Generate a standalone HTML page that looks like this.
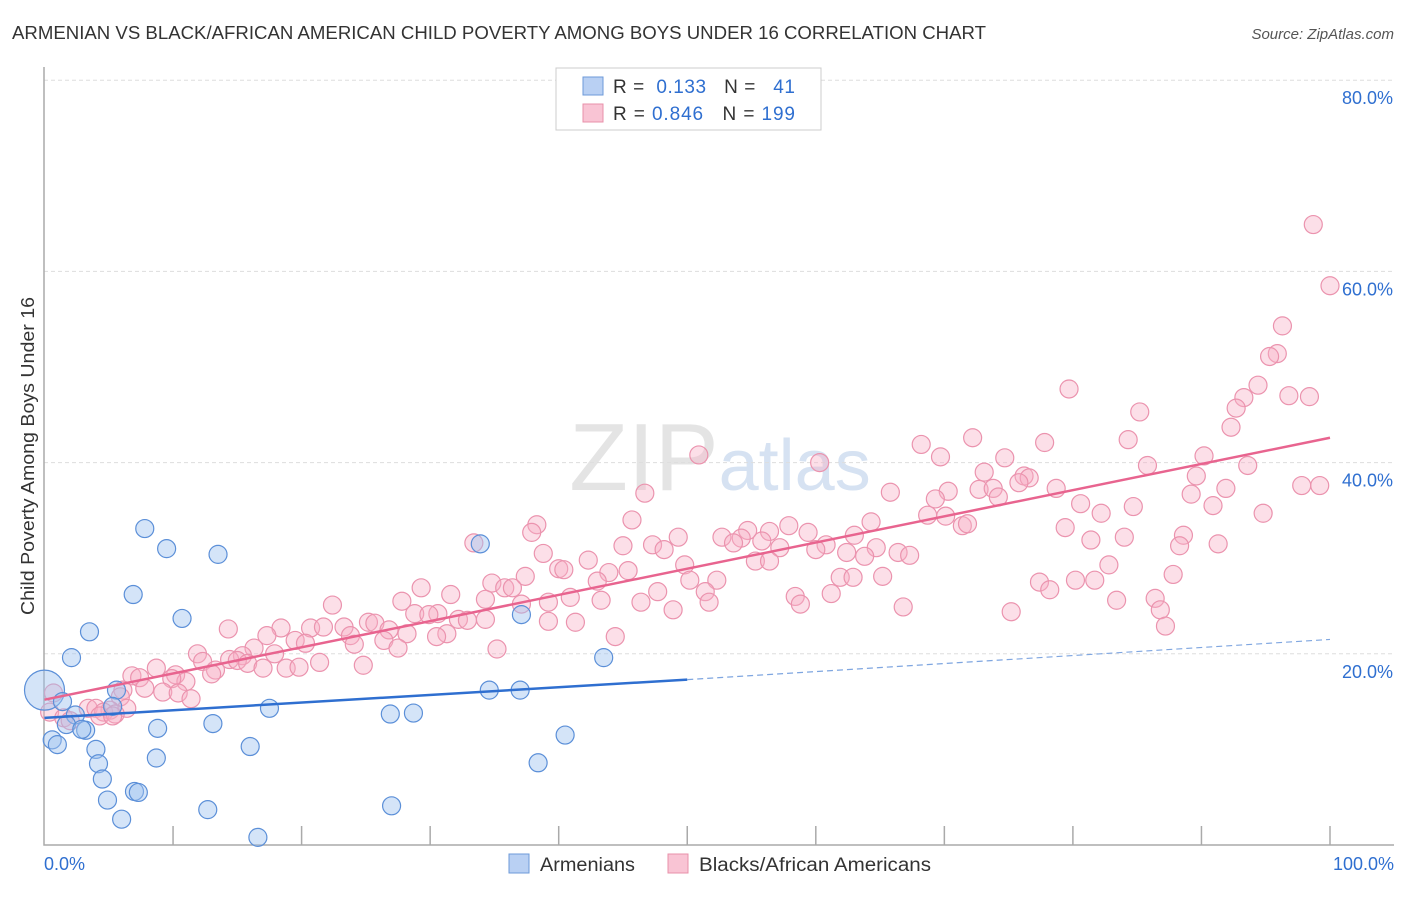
<!DOCTYPE html>
<html><head><meta charset="utf-8"><style>
body{margin:0;background:#fff;font-family:"Liberation Sans",sans-serif;}
svg text{font-family:"Liberation Sans",sans-serif;}
</style></head><body>
<svg id="chart" width="1406" height="892" viewBox="0 0 1406 892" xmlns="http://www.w3.org/2000/svg">
<text x="12" y="39" font-size="18" fill="#333" textLength="974" lengthAdjust="spacingAndGlyphs">ARMENIAN VS BLACK/AFRICAN AMERICAN CHILD POVERTY AMONG BOYS UNDER 16 CORRELATION CHART</text>
<text x="1394" y="39" font-size="15" fill="#555" font-style="italic" text-anchor="end">Source: ZipAtlas.com</text>
<text x="720" y="490" font-size="96" fill="#e4e4e4" text-anchor="middle" font-family="Liberation Serif">ZIP<tspan fill="#d6e2f2" font-family="Liberation Sans" font-size="72">atlas</tspan></text>
<g id="grid"></g>
<g id="axes"></g>
<g id="pts"></g>
<g id="lines"></g>
<text transform="translate(34,456) rotate(-90)" font-size="18" fill="#333" text-anchor="middle" textLength="318" lengthAdjust="spacingAndGlyphs">Child Poverty Among Boys Under 16</text>
<g>
<rect x="556" y="68" width="265" height="62" fill="#fff" stroke="#ccc"/>
<rect x="583" y="77" width="20" height="18" fill="#b9d0f3" stroke="#6d9ad8"/>
<rect x="583" y="104" width="20" height="18" fill="#f9c4d4" stroke="#e890aa"/>
<text x="613" y="93" font-size="19" fill="#333" textLength="182" lengthAdjust="spacing">R = <tspan fill="#2f6fd0">&#160;0.133</tspan>&#160;&#160;&#160;N = <tspan fill="#2f6fd0">&#160;&#160;41</tspan></text>
<text x="613" y="120" font-size="19" fill="#333" textLength="182" lengthAdjust="spacing">R = <tspan fill="#2f6fd0">0.846</tspan>&#160;&#160;&#160;N = <tspan fill="#2f6fd0">199</tspan></text>
</g>
<g>
<rect x="509" y="854" width="20" height="19" fill="#b9d0f3" stroke="#6d9ad8"/>
<text x="540" y="871" font-size="19" fill="#333" textLength="95" lengthAdjust="spacingAndGlyphs">Armenians</text>
<rect x="668" y="854" width="20" height="19" fill="#f9c4d4" stroke="#e890aa"/>
<text x="699" y="871" font-size="19" fill="#333" textLength="232" lengthAdjust="spacingAndGlyphs">Blacks/African Americans</text>
</g>
</svg>
<script>
const yTicks=[20,40,60,80];
const yTickLabels=["20.0%","40.0%","60.0%","80.0%"];
const xLabels=["0.0%","100.0%"];
const blueX=[0,7.8,9.5,13.5,6.9,10.7,3.5,2.1,43.5,37.1,33.9,1.4,5.6,34.6,37.0,17.5,5.3,2.4,3.2,1.7,8.8,13.1,0.6,1.0,4.0,26.9,28.7,40.5,16.0,8.7,4.2,4.5,38.4,7.0,7.3,4.9,12.7,6.0,27.0,16.6,2.9];
const blueY=[16.2,33.1,31.0,30.4,26.2,23.7,22.3,19.6,19.6,24.1,31.5,15.0,16.2,16.2,16.2,14.3,14.5,13.6,12.0,12.6,12.2,12.7,11.0,10.5,10.0,13.7,13.8,11.5,10.3,9.1,8.5,6.9,8.6,5.6,5.5,4.7,3.7,2.7,4.1,0.8,12.1];
const pinkX=[98.7,100,96.3,95.9,95.3,94.4,96.8,98.4,93.3,92.7,92.3,79.7,85.2,84.3,72.2,68.2,77.8,90.2,85.8,93.6,69.7,50.9,60.3,74.7,73.1,76.2,76.6,75.8,89.6,99.2,97.8,65.8,46.7,72.7,73.8,70.3,78.7,91.9,89.2,69.3,74.2,80.6,84.7,90.9,82.2,94.8,68.7,70.1,45.7,38.3,64.3,71.4,71.8,79.4,57.9,59.4,37.9,54.7,56.4,52.7,54.2,63.0,88.6,49.3,53.6,55.8,60.8,81.4,84.0,33.4,45.0,47.3,48.2,57.2,60.0,62.4,64.7,66.4,67.3,88.3,91.3,38.8,42.3,55.3,56.4,63.8,49.8,82.8,40.0,40.4,45.4,43.9,37.4,43.0,34.8,61.9,62.9,65.2,87.8,52.3,50.2,77.4,80.2,81.7,29.3,35.8,36.4,47.7,51.4,78.2,31.6,34.3,27.8,39.2,40.9,43.3,46.4,51.7,58.4,61.2,83.4,86.4,22.4,37.1,48.9,58.8,66.8,75.2,86.8,28.8,30.6,29.9,32.2,34.3,32.9,25.2,25.7,26.8,14.3,18.4,20.7,21.7,23.3,39.2,41.3,87.2,28.2,31.3,30.5,23.8,17.3,19.5,26.4,44.4,24.1,20.3,16.3,27.5,35.2,11.9,15.4,17.9,12.3,14.4,15.0,15.8,21.4,17.0,18.8,19.8,24.8,8.7,13.3,10.2,6.8,7.4,13.0,11.0,9.9,6.1,7.8,9.2,10.4,5.9,11.4,0.7,0.4,3.4,4.0,5.1,4.6,6.4,4.3,5.5,1.5,2.0,5.3];
const pinkY=[64.9,58.5,54.3,51.4,51.1,48.1,47.0,46.9,46.8,45.7,43.7,47.7,45.3,42.4,42.6,41.9,42.1,40.7,39.7,39.7,40.6,40.8,40.0,40.5,39.0,38.6,38.4,37.9,38.6,37.6,37.6,36.9,36.8,37.2,37.3,37.0,37.3,37.3,36.7,36.2,36.4,35.7,35.4,35.5,34.7,34.7,34.5,34.4,34.0,33.5,33.8,33.4,33.6,33.2,33.4,32.7,32.7,32.9,32.8,32.2,32.1,32.4,32.4,32.2,31.6,31.8,31.4,31.9,32.2,31.6,31.3,31.4,30.9,31.1,30.9,30.6,31.1,30.6,30.3,31.3,31.5,30.5,29.8,29.7,29.7,30.2,29.3,29.3,28.9,28.8,28.7,28.5,28.1,27.6,27.4,28.0,28.0,28.1,28.3,27.7,27.7,27.5,27.7,27.7,26.9,26.9,26.9,26.5,26.5,26.7,26.2,25.7,25.5,25.4,25.9,25.6,25.4,25.4,26.0,26.3,25.6,25.8,25.1,25.2,24.6,25.2,24.9,24.4,24.6,24.2,24.2,24.1,23.6,23.6,23.5,23.3,23.2,22.5,22.6,22.7,22.7,22.8,22.8,23.4,23.3,22.9,22.1,22.1,21.8,21.9,21.9,21.4,21.4,21.8,21.0,21.1,20.6,20.6,20.5,20.0,19.8,20.0,19.2,19.4,19.3,19.0,19.1,18.5,18.5,18.6,18.8,18.5,18.3,17.8,17.7,17.5,17.9,17.1,17.4,16.2,16.4,16.0,15.9,15.5,15.3,15.9,13.9,14.3,14.3,14.1,13.9,14.3,13.5,13.7,13.3,13.0,13.5];
const blueTrend=[13.3,17.3,21.5];
const pinkTrend=[15.2,42.6];
const NS="http://www.w3.org/2000/svg";
const X=v=>44.5+v*12.855, Y=v=>845-v*9.56;
function mk(t,a,p){const e=document.createElementNS(NS,t);for(const k in a)e.setAttribute(k,a[k]);p.appendChild(e);return e;}
const grid=document.getElementById('grid'),axes=document.getElementById('axes'),pts=document.getElementById('pts'),lines=document.getElementById('lines');
yTicks.forEach((t,i)=>{
 const l=mk('line',{x1:44,x2:1394,y1:Y(t),y2:Y(t),stroke:'#ddd','stroke-dasharray':'4,3'},grid);
 
 
 const tx=mk('text',{x:1393,y:Y(t)+24,'font-size':18,fill:'#2f6fd0','text-anchor':'end'},axes);
 tx.textContent=yTickLabels[i];
 
 
});
const ax=mk('path',{d:'M44,67 V845 H1394',fill:'none',stroke:'#aaa','stroke-width':1.5},axes);


for(let i=1;i<=10;i++){const tk=mk('line',{x1:X(i*10),x2:X(i*10),y1:826,y2:845,stroke:'#aaa','stroke-width':1.5},axes);
 
 }
[[0,'start',44],[1,'end',1394]].forEach(([i,a,x])=>{const t=mk('text',{x:x,y:870,'font-size':18,fill:'#2f6fd0','text-anchor':a},axes);t.textContent=xLabels[i];
 
 });
pinkX.forEach((v,i)=>{const c=mk('circle',{cx:X(v),cy:Y(pinkY[i]),r:9,fill:'rgba(248,175,198,0.4)',stroke:'#eb93ae','stroke-width':1.2},pts);
 
 });
blueX.forEach((v,i)=>{const c=mk('circle',{cx:X(v),cy:Y(blueY[i]),r:i==0?20:9,fill:'rgba(160,195,240,0.45)',stroke:'#5b8fd8','stroke-width':1.2},pts);
 
 });
const bl=mk('line',{x1:X(0),y1:Y(blueTrend[0]),x2:X(50),y2:Y(blueTrend[1]),stroke:'#2f6fd0','stroke-width':2.5},lines);


const bd=mk('line',{x1:X(50),y1:Y(blueTrend[1]),x2:X(100),y2:Y(blueTrend[2]),stroke:'#7fa6e0','stroke-width':1.2,'stroke-dasharray':'6,4'},lines);


const pl=mk('line',{x1:X(0),y1:Y(pinkTrend[0]),x2:X(100),y2:Y(pinkTrend[1]),stroke:'#e8648f','stroke-width':2.5},lines);


</script>
</body></html>
